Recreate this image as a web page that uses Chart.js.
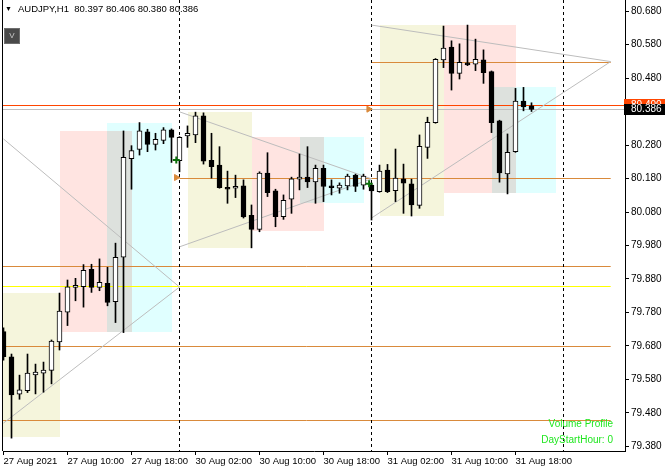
<!DOCTYPE html>
<html>
<head>
<meta charset="utf-8">
<script src="https://cdn.jsdelivr.net/npm/chart.js@4.4.1/dist/chart.umd.min.js"></script>
<style>
  html, body { margin: 0; padding: 0; background: #fff; }
  #wrap { position: relative; width: 665px; height: 472px; overflow: hidden; }
  canvas { display: block; }
  .ov { position: absolute; font-family: "Liberation Sans", Arial, sans-serif; white-space: pre; line-height: 1; }
  #title { left: 5px; top: 4px; font-size: 9.5px; color: #000; }
  #title .tri { font-size: 7px; position: relative; top: -1px; margin-right: 6px; }
  #vbtn { left: 4px; top: 28px; width: 14px; height: 14px; background: #4a4a4a; border: 1px solid #6e6e6e;
          color: #c8c8c8; font-size: 8px; text-align: center; line-height: 14px; }
  .ind { right: 52px; font-size: 10px; color: #1fe61f; text-align: right; }
</style>
</head>
<body>
<div id="wrap">
  <canvas id="c" width="665" height="472"></canvas>
  <div id="title" class="ov"></div>
  <div id="vbtn" class="ov">V</div>
  <div class="ov ind" style="top:419px">Volume Profile</div>
  <div class="ov ind" style="top:435px">DayStartHour: 0</div>
</div>
<script>
// ---------------- data ----------------
const symbol = 'AUDJPY';
const period = 'H1';

const barTimes = [
  '27 Aug 02:00','27 Aug 03:00','27 Aug 04:00','27 Aug 05:00','27 Aug 06:00','27 Aug 07:00','27 Aug 08:00','27 Aug 09:00',
  '27 Aug 10:00','27 Aug 11:00','27 Aug 12:00','27 Aug 13:00','27 Aug 14:00','27 Aug 15:00','27 Aug 16:00','27 Aug 17:00',
  '27 Aug 18:00','27 Aug 19:00','27 Aug 20:00','27 Aug 21:00','27 Aug 22:00','27 Aug 23:00',
  '30 Aug 00:00','30 Aug 01:00','30 Aug 02:00','30 Aug 03:00','30 Aug 04:00','30 Aug 05:00','30 Aug 06:00','30 Aug 07:00',
  '30 Aug 08:00','30 Aug 09:00','30 Aug 10:00','30 Aug 11:00','30 Aug 12:00','30 Aug 13:00','30 Aug 14:00','30 Aug 15:00',
  '30 Aug 16:00','30 Aug 17:00','30 Aug 18:00','30 Aug 19:00','30 Aug 20:00','30 Aug 21:00','30 Aug 22:00','30 Aug 23:00',
  '31 Aug 00:00','31 Aug 01:00','31 Aug 02:00','31 Aug 03:00','31 Aug 04:00','31 Aug 05:00','31 Aug 06:00','31 Aug 07:00',
  '31 Aug 08:00','31 Aug 09:00','31 Aug 10:00','31 Aug 11:00','31 Aug 12:00','31 Aug 13:00','31 Aug 14:00','31 Aug 15:00',
  '31 Aug 16:00','31 Aug 17:00','31 Aug 18:00','31 Aug 19:00','31 Aug 20:00'
];

const opens = [
  79.723,79.648,79.536,79.547,79.594,79.599,79.607,79.692,79.781,79.855,79.857,79.909,79.855,79.867,79.812,79.945,
  80.239,80.267,80.319,80.282,80.294,80.325,80.233,80.307,80.310,80.367,80.234,80.220,80.154,80.151,80.158,80.070,
  80.028,80.196,80.143,80.066,80.118,80.178,80.184,80.170,80.210,80.158,80.151,80.158,80.190,80.160,80.160,80.141,
  80.205,80.144,80.179,80.164,80.100,80.273,80.347,80.534,80.572,80.494,80.525,80.521,80.534,80.499,80.352,80.194,
  80.260,80.411,80.397
];
const highs = [
  79.734,79.656,79.593,79.656,79.626,79.632,79.698,79.838,79.877,79.882,79.923,79.924,79.940,79.915,79.987,80.322,
  80.278,80.347,80.327,80.315,80.332,80.328,80.305,80.337,80.378,80.376,80.315,80.275,80.202,80.190,80.176,80.101,
  80.200,80.257,80.148,80.131,80.184,80.253,80.275,80.220,80.220,80.176,80.167,80.193,80.193,80.193,80.166,80.220,
  80.222,80.268,80.223,80.178,80.310,80.363,80.538,80.635,80.591,80.582,80.638,80.596,80.564,80.501,80.354,80.313,
  80.449,80.452,80.406
];
const lows = [
  79.638,79.405,79.521,79.541,79.537,79.542,79.567,79.668,79.741,79.815,79.796,79.840,79.845,79.800,79.750,79.720,
  80.148,80.250,80.260,80.265,80.284,80.228,80.200,80.273,80.287,80.223,80.181,80.151,80.106,80.123,80.062,79.973,
  80.021,80.126,80.036,80.058,80.076,80.146,80.153,80.106,80.111,80.131,80.136,80.146,80.141,80.148,80.056,80.139,
  80.138,80.111,80.076,80.068,80.091,80.240,80.345,80.511,80.444,80.477,80.517,80.502,80.464,80.317,80.169,80.134,
  80.258,80.382,80.380
];
const closes = [
  79.648,79.534,79.549,79.599,79.602,79.608,79.695,79.784,79.857,79.861,79.906,79.855,79.870,79.810,79.945,80.243,
  80.263,80.322,80.282,80.297,80.325,80.303,80.303,80.315,80.367,80.232,80.215,80.153,80.148,80.157,80.065,80.028,
  80.196,80.138,80.066,80.115,80.179,80.184,80.170,80.210,80.156,80.153,80.160,80.187,80.156,80.187,80.143,80.202,
  80.141,80.181,80.166,80.101,80.276,80.348,80.536,80.569,80.494,80.527,80.519,80.536,80.496,80.347,80.197,80.258,
  80.411,80.394,80.386
];

// price axis
const yTickValues = [79.380,79.480,79.580,79.680,79.780,79.880,79.980,80.080,80.180,80.280,80.380,80.480,80.580,80.680];
const priceMax = 80.712836;
const priceMin = 79.366567;

// time axis
const xTickTimes  = ['27 Aug 02:00','27 Aug 10:00','27 Aug 18:00','30 Aug 02:00','30 Aug 10:00','30 Aug 18:00','31 Aug 02:00','31 Aug 10:00','31 Aug 18:00'];
const xTickLabels = ['27 Aug 2021','27 Aug 10:00','27 Aug 18:00','30 Aug 02:00','30 Aug 10:00','30 Aug 18:00','31 Aug 02:00','31 Aug 10:00','31 Aug 18:00'];
const barMin = -0.0625;
const barMax = 77.6875;

// day separators (bar index of 00:00)
const daySeparators = [22, 46, 70];

// session zones (bar index span, price range)
const zoneDay  = [1, 1, 1, 2, 2, 2, 3, 3, 3];
const zoneKind = ['asia','europe','america','asia','europe','america','asia','europe','america'];
const zoneFrom = [-2, 7, 13, 23, 31, 37, 47, 55, 61];
const zoneTo   = [7, 16, 21, 31, 40, 45, 55, 64, 69];
const zoneHigh = [79.839, 80.322, 80.347, 80.378, 80.305, 80.305, 80.638, 80.638, 80.454];
const zoneLow  = [79.408, 79.723, 79.723, 79.973, 80.024, 80.108, 80.069, 80.136, 80.136];

// horizontal levels
const levelPrice = [79.919, 79.858, 79.679, 79.458, 80.181, 80.529];
const levelKind  = ['level','mid','level','level','level','level'];
const levelFrom  = [-2, -2, -2, -2, 22, 46];
const levelTo    = [75.9, 75.9, 75.9, 75.9, 75.9, 75.9];
const alertPrice = 80.400;

// triangle trend lines: [bar, price]
const triUpperFrom = [[0, 80.298], [22, 80.379], [46, 80.638]];
const triUpperTo   = [[22, 79.856], [46, 80.179], [75.9, 80.529]];
const triLowerFrom = [[0, 79.450], [22, 79.976], [46, 80.062]];
const triLowerTo   = [[22, 79.856], [46, 80.179], [75.9, 80.529]];

// arrows
const orangeMarkBar   = [21.6, 45.65];
const orangeMarkPrice = [80.183, 80.387];
const greenMarkBar    = [21.6, 45.7];
const greenMarkPrice  = [80.235, 80.164];

// ---------------- styles ----------------
const zoneColors = { asia: '#F5F5DC', europe: '#FFE4E1', america: '#E0FFFF' };
const overlapColor = '#DDE1DD';
const levelColors = { level: '#D98A3B', mid: '#FFFF00' };
const FONT = '"Liberation Sans", Arial, sans-serif';

document.getElementById('title').innerHTML =
  '<span class="tri">&#9660;</span>' + symbol + ',' + period + '  ' +
  [opens, highs, lows, closes].map(a => a[a.length - 1].toFixed(3)).join(' ');

const bidPrice = closes[closes.length - 1];

const overlayPlugin = {
  id: 'mtOverlay',
  beforeDatasetsDraw(chart) {
    const { ctx, chartArea: a, scales: { x, y } } = chart;
    ctx.save();
    ctx.beginPath();
    ctx.rect(a.left, a.top, a.right - a.left, a.bottom - a.top);
    ctx.clip();
    const rect = (x0, x1, p0, p1, col) => {
      const l = Math.round(x.getPixelForValue(x0)), r = Math.round(x.getPixelForValue(x1));
      const t = Math.round(y.getPixelForValue(p0)), b = Math.round(y.getPixelForValue(p1));
      ctx.fillStyle = col;
      ctx.fillRect(l, t, r - l, b - t);
    };
    zoneKind.forEach((k, i) => rect(zoneFrom[i], zoneTo[i], zoneHigh[i], zoneLow[i], zoneColors[k]));
    // overlap of europe and america sessions
    zoneKind.forEach((k, i) => {
      if (k !== 'europe') return;
      const j = zoneKind.findIndex((kk, jj) => kk === 'america' && zoneDay[jj] === zoneDay[i]);
      if (j < 0) return;
      const f = Math.max(zoneFrom[i], zoneFrom[j]), t = Math.min(zoneTo[i], zoneTo[j]);
      const hi = Math.min(zoneHigh[i], zoneHigh[j]), lo = Math.max(zoneLow[i], zoneLow[j]);
      if (t > f && hi > lo) rect(f, t, hi, lo, overlapColor);
    });
    const hline = (p, x0, x1, col) => {
      const yy = Math.round(y.getPixelForValue(p)) + 0.5;
      ctx.strokeStyle = col; ctx.lineWidth = 1; ctx.setLineDash([]);
      ctx.beginPath();
      ctx.moveTo(x0 == null ? a.left : x.getPixelForValue(x0), yy);
      ctx.lineTo(x1 == null ? a.right : x.getPixelForValue(x1), yy);
      ctx.stroke();
    };
    levelPrice.forEach((p, i) => hline(p, levelFrom[i], levelTo[i], levelColors[levelKind[i]]));
    hline(bidPrice, null, null, '#C0C0C0');
    hline(alertPrice, null, null, '#FF4500');
    // day separators
    ctx.strokeStyle = '#000'; ctx.lineWidth = 1; ctx.setLineDash([3, 3]);
    daySeparators.forEach(b => {
      const xx = Math.floor(x.getPixelForValue(b)) + 0.5;
      ctx.beginPath(); ctx.moveTo(xx, a.top); ctx.lineTo(xx, a.bottom); ctx.stroke();
    });
    ctx.restore();
  },
  afterDraw(chart) {
    const { ctx, chartArea: a, scales: { y } } = chart;
    ctx.save();
    // left border
    ctx.strokeStyle = '#000'; ctx.lineWidth = 1;
    ctx.beginPath(); ctx.moveTo(a.left - 0.5, a.top); ctx.lineTo(a.left - 0.5, a.bottom); ctx.stroke();
    // price labels on axis
    const box = (p, bg) => {
      const yy = y.getPixelForValue(p);
      ctx.fillStyle = bg;
      ctx.fillRect(a.right - 1, Math.round(yy - 5.5), chart.width - a.right + 1, 11);
      ctx.fillStyle = '#fff';
      ctx.font = '10px ' + FONT;
      ctx.textBaseline = 'middle';
      ctx.fillText(p.toFixed(3), a.right + 6, Math.round(yy) + 0.5);
    };
    box(alertPrice, '#FF4500');
    box(bidPrice, '#000');
    ctx.restore();
  }
};

const idx = barTimes.map((t, i) => i);

const datasets = [];
// triangle lines
[[triUpperFrom, triUpperTo], [triLowerFrom, triLowerTo]].forEach(([fr, to]) => {
  fr.forEach((s, k) => {
    datasets.push({
      type: 'line', order: 5,
      data: [{ x: s[0], y: s[1] }, { x: to[k][0], y: to[k][1] }],
      borderColor: '#BDBDBD', borderWidth: 1, pointRadius: 0, fill: false, tension: 0
    });
  });
});
// wicks
datasets.push({
  type: 'bar', order: 3, grouped: false,
  data: idx.map(i => ({ x: i, y: [lows[i], highs[i]] })),
  backgroundColor: '#000', borderWidth: 0, barThickness: 1
});
// bodies
datasets.push({
  type: 'bar', order: 2, grouped: false,
  data: idx.map(i => ({ x: i, y: [opens[i], closes[i]] })),
  backgroundColor: idx.map(i => closes[i] >= opens[i] ? '#FFFFFF' : '#000000'),
  borderColor: '#000', borderWidth: 1, borderSkipped: false, barThickness: 5
});
// arrows
datasets.push({
  type: 'line', order: 1, showLine: false,
  data: orangeMarkBar.map((b, i) => ({ x: b, y: orangeMarkPrice[i] })),
  pointStyle: 'triangle', rotation: 90, pointRadius: 3.5,
  pointBackgroundColor: '#D98A3B', pointBorderColor: '#D98A3B', pointBorderWidth: 1
});
datasets.push({
  type: 'line', order: 1, showLine: false,
  data: greenMarkBar.map((b, i) => ({ x: b, y: greenMarkPrice[i] })),
  pointStyle: 'cross', pointRadius: 3.5,
  pointBorderColor: '#0A6E0A', pointBorderWidth: 2
});

new Chart(document.getElementById('c'), {
  type: 'bar',
  data: { datasets },
  plugins: [overlayPlugin],
  options: {
    responsive: false,
    animation: false,
    devicePixelRatio: 1,
    layout: { autoPadding: false, padding: { left: 3, right: 0, top: 0, bottom: 0 } },
    plugins: { legend: { display: false }, tooltip: { enabled: false } },
    scales: {
      x: {
        type: 'linear', min: barMin, max: barMax, offset: false,
        grid: { drawOnChartArea: false, offset: false, tickLength: 4, tickColor: '#000', color: '#000' },
        border: { display: true, color: '#000', width: 1 },
        afterBuildTicks: s => { s.ticks = xTickTimes.map(t => ({ value: barTimes.indexOf(t) })); },
        afterFit: s => { s.height = 21; s.paddingLeft = 0; s.paddingRight = 0; s.paddingTop = 0; s.paddingBottom = 0; },
        ticks: {
          autoSkip: false, maxRotation: 0, minRotation: 0, align: 'start', padding: 1,
          color: '#000', font: { family: FONT, size: 9.5 },
          callback: (v, i) => xTickLabels[i]
        }
      },
      y: {
        type: 'linear', position: 'right', min: priceMin, max: priceMax, beginAtZero: false,
        grid: { drawOnChartArea: false, tickLength: 4, tickColor: '#000', color: '#000' },
        border: { display: true, color: '#000', width: 1 },
        afterBuildTicks: s => { s.ticks = yTickValues.map(v => ({ value: v })); },
        afterFit: s => { s.width = 40; s.paddingTop = 0; s.paddingBottom = 0; s.paddingLeft = 0; s.paddingRight = 0; },
        ticks: {
          padding: 2, color: '#000', font: { family: FONT, size: 10 },
          callback: v => Number(v).toFixed(3)
        }
      }
    }
  }
});
</script>
</body>
</html>
